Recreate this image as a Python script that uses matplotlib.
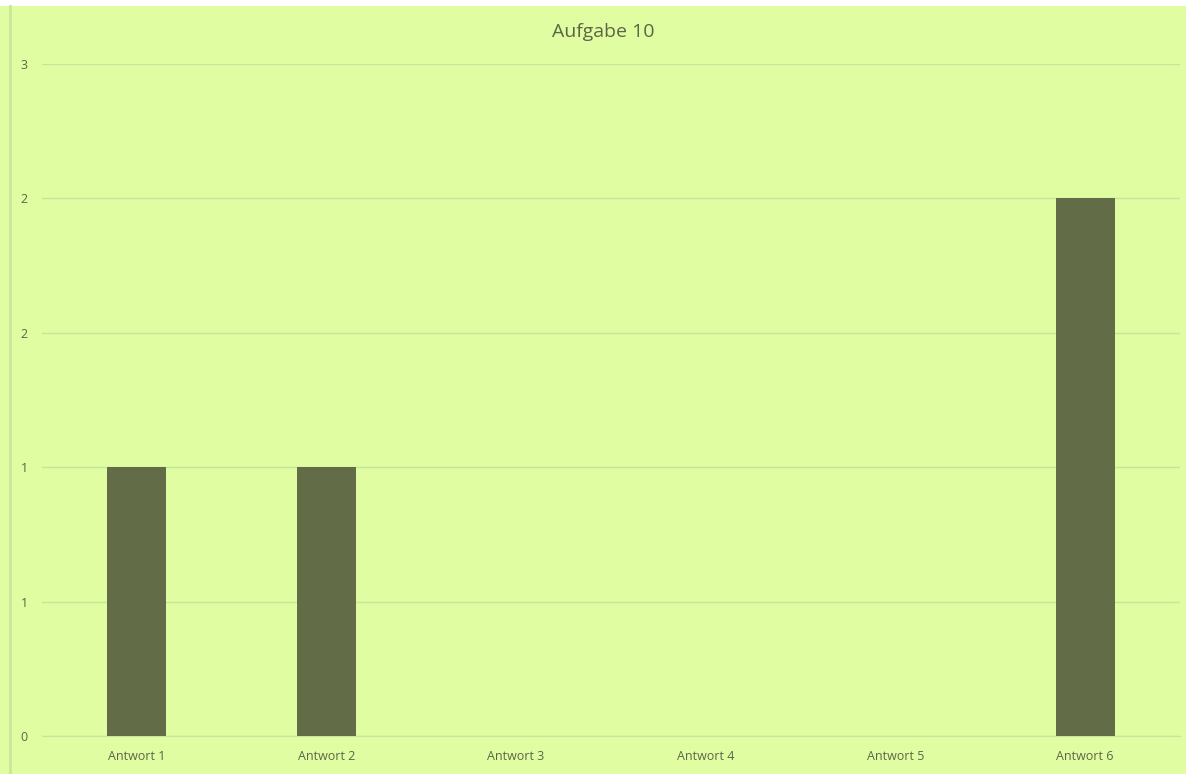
import matplotlib
matplotlib.use("Agg")
import matplotlib.pyplot as plt
from matplotlib.patches import Rectangle
from matplotlib.lines import Line2D

categories = ["Antwort 1", "Antwort 2", "Antwort 3", "Antwort 4", "Antwort 5", "Antwort 6"]
values = [1, 1, 0, 0, 0, 2]
y_ticks = [0, 0.5, 1, 1.5, 2, 2.5]
y_tick_labels = ["0", "1", "1", "2", "2", "3"]
title = "Aufgabe 10"

W, H = 1186, 774
bg = "#E0FDA2"
bar_color = "#626C46"
grid_color = "#C6E49A"
text_color = "#5C6646"

fig = plt.figure(figsize=(W / 100, H / 100), dpi=100)
fig.patch.set_facecolor("white")
fig.patches.append(Rectangle((0, 0), 1, 1 - 6 / H, transform=fig.transFigure,
                             facecolor=bg, edgecolor="none", zorder=-10))
fig.lines.append(Line2D([10 / W, 10 / W], [0, 1 - 6 / H], transform=fig.transFigure,
                        color="#C9E69C", lw=2))

left, right, top, bottom = 41.6, 1180, 64, 736
ax = fig.add_axes([left / W, 1 - bottom / H, (right - left) / W, (bottom - top) / H])
ax.set_facecolor("none")
x = list(range(len(categories)))
ax.bar(x, values, width=0.31, color=bar_color, zorder=3)
ax.set_xlim(-0.5, len(categories) - 0.5)
ax.set_ylim(0, 2.5)
ax.set_yticks(y_ticks)
ax.set_yticklabels(y_tick_labels)
ax.set_xticks(x)
ax.set_xticklabels(categories)
ax.yaxis.grid(True, color=grid_color, lw=1, zorder=0)
ax.set_axisbelow(True)
for s in ["left", "right", "top"]:
    ax.spines[s].set_visible(False)
ax.spines["bottom"].set_color(grid_color)
ax.tick_params(axis="both", length=0, labelsize=9, labelcolor=text_color)
ax.tick_params(axis="y", pad=10)
ax.tick_params(axis="x", pad=10)
for lab in ax.get_xticklabels() + ax.get_yticklabels():
    lab.set_fontfamily("Open Sans")

fig.text(603 / W, 1 - 32 / H, title, ha="center", va="center", fontsize=14,
         color=text_color, fontfamily="Open Sans")

fig.savefig("out.png", dpi=100)
